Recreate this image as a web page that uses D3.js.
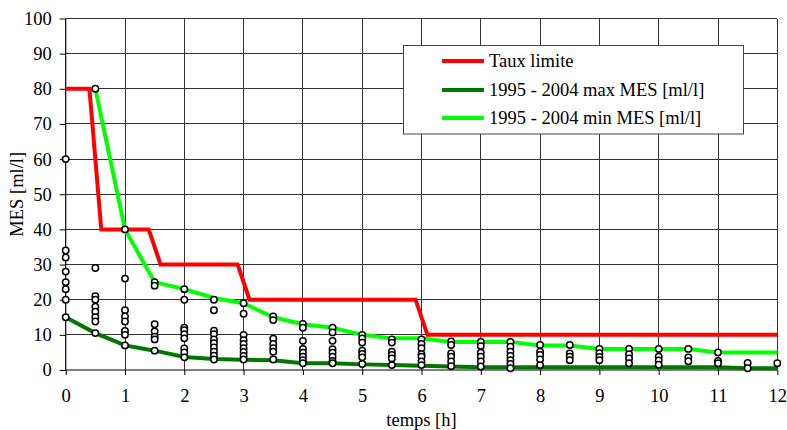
<!DOCTYPE html>
<html>
<head>
<meta charset="utf-8">
<script src="https://cdn.jsdelivr.net/npm/d3@7"></script>
<style>
  html, body { margin: 0; padding: 0; background: #fff; }
  svg { display: block; }
  svg text { font-family: "Liberation Serif", "Times New Roman", serif; font-size: 18.5px; fill: #000; }
</style>
</head>
<body>
<svg id="chart" width="787" height="430"></svg>
<script>
// Regulatory limit (step curve)
const limitX = [0, 0.4, 0.6, 1.4, 1.6, 2.9, 3.1, 5.9, 6.1, 12];
const limitY = [80, 80, 40, 40, 30, 30, 20, 20, 10, 10];

// 1995 - 2004 envelope curves
const maxMesX = [0, 0.5, 1, 1.5, 2, 2.5, 3, 3.5, 4, 4.5, 5, 5.5, 6, 6.5, 7, 7.5, 8, 8.5, 9, 9.5, 10, 10.5, 11, 11.5, 12];
const maxMesY = [15, 10.5, 7, 5.5, 3.7, 3.1, 2.9, 2.8, 1.9, 1.9, 1.6, 1.4, 1.2, 1.0, 0.8, 0.8, 0.8, 0.8, 0.8, 0.8, 0.8, 0.8, 0.8, 0.5, 0.5];
const minMesX = [0.5, 1, 1.5, 2, 2.5, 3, 3.5, 4, 4.5, 5, 5.5, 6, 6.5, 7, 7.5, 8, 8.5, 9, 9.5, 10, 10.5, 11, 11.5, 12];
const minMesY = [80, 40, 25, 23, 20.5, 19, 15, 13, 12, 10, 9, 9, 8, 8, 8, 7, 7, 6, 6, 6, 6, 5, 5, 5];

// Individual measurements, one list per sampling time
const obsTimes = [0, 0.5, 1, 1.5, 2, 2.5, 3, 3.5, 4, 4.5, 5, 5.5, 6, 6.5, 7, 7.5, 8, 8.5, 9, 9.5, 10, 10.5, 11, 11.5, 12];
const obsValues = [
  [60, 34, 32, 28, 25, 23, 20, 15],
  [80, 29, 21, 20, 18, 16.6, 15, 13.8, 10.5],
  [40, 26, 17, 15.2, 13.8, 11.1, 10, 7],
  [25, 24, 13, 11, 9.5, 8.7, 5.5],
  [23, 20, 12, 11.3, 10.2, 9, 6.1, 5, 3.6],
  [20, 17, 11.2, 10.2, 8.7, 7.6, 6.4, 5.2, 4.1, 3],
  [19, 16, 10, 8.5, 7.4, 6.2, 5.1, 4, 3],
  [15.2, 14.2, 8.9, 7.4, 6.2, 5.2, 3],
  [13.1, 12, 8.3, 6, 4.9, 3.8, 2.8, 1.9],
  [12, 10.7, 8.3, 5.9, 4.9, 3.8, 2.6, 1.9],
  [10, 9, 7.8, 5.5, 4.6, 3.6, 1.7],
  [8.7, 7.8, 5.2, 4.3, 3.3, 1.4],
  [8.7, 7.4, 6.2, 4.5, 3.8, 2.4, 1.4],
  [8.1, 7.1, 4.7, 3.8, 2.4, 1.1],
  [8, 6.8, 4.9, 3.8, 2.4, 1.0],
  [8, 6.6, 5.2, 4, 2.8, 1.7, 0.5],
  [7.1, 5.2, 4.3, 3, 1.4],
  [7.1, 4.7, 3.8, 2.8],
  [6, 4.8, 3.7, 2.8],
  [6, 4.5, 3.3, 1.9],
  [6, 3.8, 2.7, 1.5],
  [6, 3.6, 2.5],
  [5, 2.6, 1.9],
  [2, 0.5],
  [1.9]
];

const xTicks = [0, 1, 2, 3, 4, 5, 6, 7, 8, 9, 10, 11, 12];
const yTicks = [0, 10, 20, 30, 40, 50, 60, 70, 80, 90, 100];

const seriesNames = ["Taux limite", "1995 - 2004 max MES [ml/l]", "1995 - 2004 min MES [ml/l]"];
const seriesColors = ["#ff0000", "#007700", "#00ff00"];

const svg = d3.select("#chart");
const plot = { left: 65.7, right: 777.3, top: 18.5, bottom: 370 };

const x = d3.scaleLinear().domain([0, 12]).range([plot.left, plot.right]);
const y = d3.scaleLinear().domain([0, 100]).range([plot.bottom, plot.top]);

// Grid
const grid = svg.append("g").attr("stroke", "#333").attr("stroke-width", 1).attr("shape-rendering", "crispEdges");
grid.selectAll("line.v").data(xTicks.slice(1)).join("line")
  .attr("x1", d => x(d)).attr("x2", d => x(d))
  .attr("y1", y(100)).attr("y2", y(0));
grid.selectAll("line.h").data(yTicks.slice(1)).join("line")
  .attr("x1", x(0)).attr("x2", x(12))
  .attr("y1", d => y(d)).attr("y2", d => y(d));

// Axes
const xAxis = d3.axisBottom(x).tickValues(xTicks).tickSize(5).tickPadding(14).tickFormat(d3.format("d"));
const yAxis = d3.axisLeft(y).tickValues(yTicks).tickSize(6).tickPadding(8).tickFormat(d3.format("d"));

const gx = svg.append("g").attr("transform", `translate(0,${plot.bottom})`).call(xAxis);
const gy = svg.append("g").attr("transform", `translate(${plot.left},0)`).call(yAxis);
[gx, gy].forEach(g => {
  g.attr("font-family", null).attr("font-size", null);
  g.select(".domain").attr("stroke", "#000").attr("stroke-width", 1.2);
  g.selectAll(".tick line").attr("stroke", "#000").attr("stroke-width", 1);
});
gx.select(".domain").attr("d", `M${x(0)},0H${x(12)}`);
gy.select(".domain").attr("d", `M0,${y(0)}V${y(100)}`);

// Axis titles
svg.append("text")
  .attr("x", (plot.left + plot.right) / 2).attr("y", 426)
  .attr("text-anchor", "middle").text("temps [h]");
svg.append("text")
  .attr("transform", `translate(23,${(plot.top + plot.bottom) / 2}) rotate(-90)`)
  .attr("text-anchor", "middle").text("MES [ml/l]");

// Lines
const line = d3.line().x(d => x(d[0])).y(d => y(d[1]));
const lineData = [
  d3.zip(limitX, limitY),
  d3.zip(maxMesX, maxMesY),
  d3.zip(minMesX, minMesY)
];
svg.append("g").selectAll("path").data([1, 2, 0]).join("path")
  .attr("d", i => line(lineData[i]))
  .attr("fill", "none")
  .attr("stroke", i => seriesColors[i])
  .attr("stroke-width", 4)
  .attr("stroke-linejoin", "miter");

// Measurement points
const points = [];
obsTimes.forEach((t, i) => obsValues[i].forEach(v => points.push([t, v])));
svg.append("g").selectAll("circle").data(points).join("circle")
  .attr("cx", d => x(d[0])).attr("cy", d => y(d[1]))
  .attr("r", 3.2)
  .attr("fill", "#fff").attr("stroke", "#000").attr("stroke-width", 1.5);

// Legend
const legend = svg.append("g");
legend.append("rect")
  .attr("x", 403.5).attr("y", 45.5).attr("width", 340).attr("height", 88.5)
  .attr("fill", "#fff").attr("stroke", "#444").attr("stroke-width", 1);
const rowsY = [61, 90, 118];
seriesNames.forEach((name, i) => {
  legend.append("line")
    .attr("x1", 442).attr("x2", 484).attr("y1", rowsY[i]).attr("y2", rowsY[i])
    .attr("stroke", seriesColors[i]).attr("stroke-width", 4);
  legend.append("text")
    .attr("x", 489).attr("y", rowsY[i]).attr("dy", "0.35em")
    .text(name);
});
</script>
</body>
</html>
